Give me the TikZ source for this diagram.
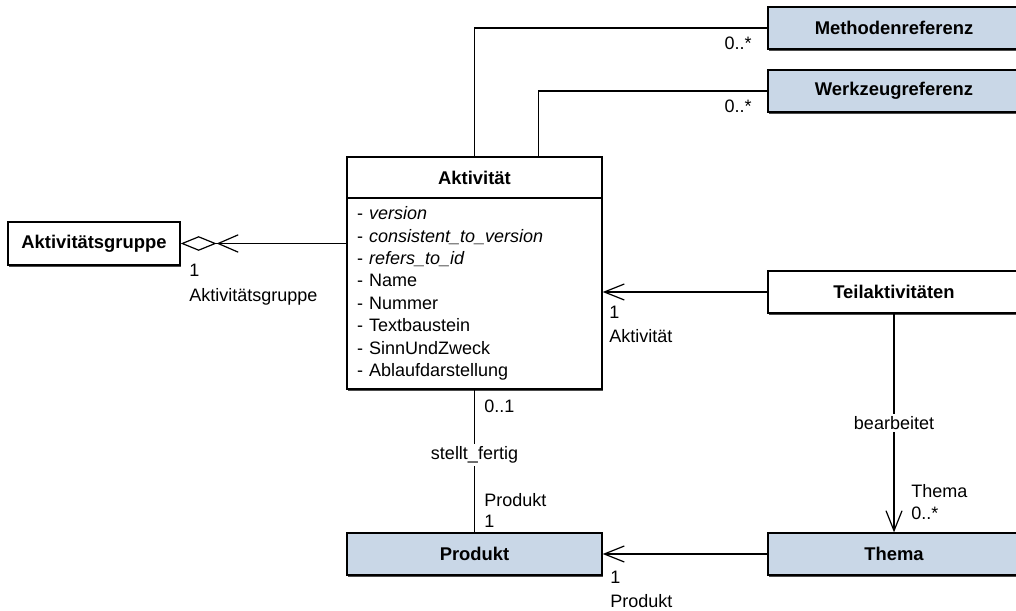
\documentclass[tikz,border=0pt]{standalone}
\usepackage{fontspec}
\setmainfont{Liberation Sans}
\usetikzlibrary{arrows.meta,shadows}
\definecolor{boxblue}{HTML}{C9D7E7}

\begin{document}
\begin{tikzpicture}[x=0.75pt,y=-0.75pt,
  every node/.style={font=\fontsize{13.5}{16}\selectfont},
  cls/.style={draw,line width=1pt,fill=white,minimum height=31.5pt,font=\fontsize{13.8}{16}\selectfont\bfseries,
    drop shadow={shadow xshift=1pt,shadow yshift=-1.2pt,fill=black!70,opacity=1}},
  ref/.style={cls,fill=boxblue},
  lbl/.style={inner sep=0pt,anchor=west},
  assoc/.style={line width=0.9pt},
  nav/.style={assoc,-{Straight Barb[length=15pt,width=12pt]}}]
    \useasboundingbox (0,0) rectangle (1016,610);

    \node[ref,minimum width=189pt] (meth) at (894,28) {Methodenreferenz};
    \node[ref,minimum width=189pt] (werk) at (894,91) {Werkzeugreferenz};
    \node[cls,minimum width=191.25pt,minimum height=30.75pt] (akt) at (474.5,177.5) {Aktivität};
    \node[cls,minimum width=191.25pt,minimum height=143.25pt,inner xsep=7.5pt,text width=176pt,align=left,
      font=\fontsize{13.5}{16.8}\selectfont] (attr) at (474.5,293.5)
      {- \textit{version}\\
       - \textit{consistent\_to\_version}\\
       - \textit{refers\_to\_id}\\
       - Name\\
       - Nummer\\
       - Textbaustein\\
       - SinnUndZweck\\
       - Ablaufdarstellung};
    \node[cls,minimum width=129pt,minimum height=32.25pt] (gruppe) at (94,243.5) {Aktivitätsgruppe};
    \node[cls,minimum width=189pt] (teil) at (894,292) {Teilaktivitäten};
    \node[ref,minimum width=191.25pt] (prod) at (474.5,554) {Produkt};
    \node[ref,minimum width=189pt] (thema) at (894,554) {Thema};

    \draw[assoc] (meth.west) -| (akt.north);
    \draw[assoc] (werk.west) -| ([xshift=48pt]akt.north);
    \draw[assoc,{Diamond[open,length=27pt,width=11pt]Straight Barb[length=15pt,width=13pt]}-]
      (gruppe.east) -- (gruppe.east -| attr.west);
    \draw[nav] (teil.west) -- (teil.west -| attr.east);
    \draw[nav] (teil.south) -- node[fill=white,inner sep=2pt] (bearb) {bearbeitet} (thema.north);
    \draw[assoc] (attr.south) -- node[fill=white,inner sep=2pt,pos=0.46] (stellt) {stellt\_fertig} (prod.north);
    \draw[nav] (thema.west) -- (prod.east);

    \node[lbl,anchor=east] (m1) at (752,43) {0..*};
    \node[lbl,anchor=east] (m2) at (752,106) {0..*};
    \node[lbl] (g1) at (189,270) {1};
    \node[lbl] (g2) at (189,297) {Aktivitätsgruppe};
    \node[lbl] (a1) at (609,312) {1};
    \node[lbl] (a2) at (609,336) {Aktivität};
    \node[lbl] (p1) at (484,406) {0..1};
    \node[lbl] (p2) at (484,500) {Produkt};
    \node[lbl] (p3) at (484,521) {1};
    \node[lbl] (t1) at (911,491) {Thema};
    \node[lbl] (t2) at (911,513) {0..*};
    \node[lbl] (q1) at (610,577) {1};
    \node[lbl] (q2) at (610,601) {Produkt};
\end{tikzpicture}
\end{document}
